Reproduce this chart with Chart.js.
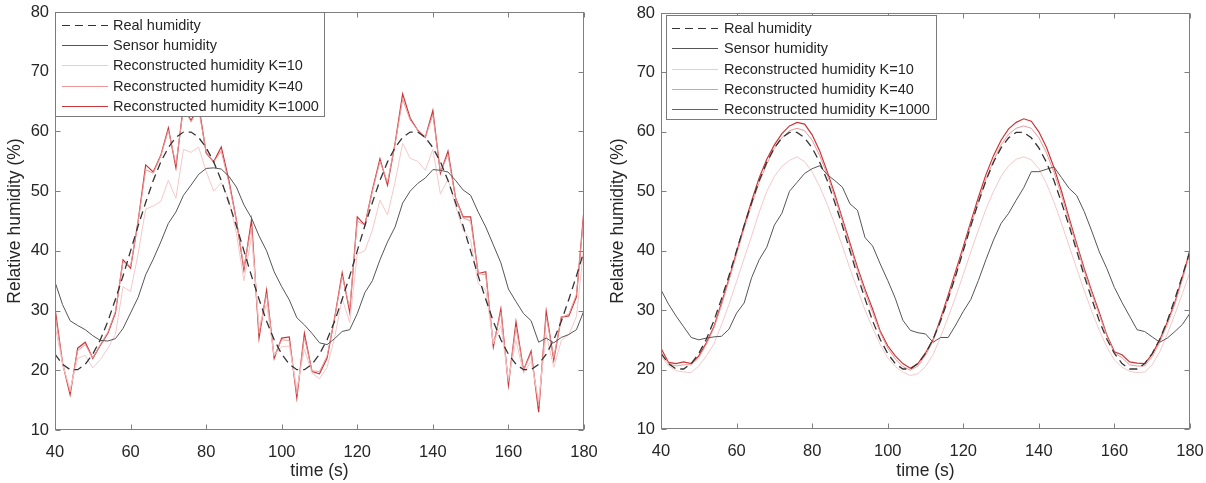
<!DOCTYPE html>
<html>
<head>
<meta charset="utf-8">
<title>Humidity reconstruction</title>
<script src="https://cdn.jsdelivr.net/npm/chart.js@4.4.1/dist/chart.umd.min.js"></script>
<style>
  html, body { margin: 0; padding: 0; background: #fff; }
  .panel { position: absolute; top: 0; width: 603px; height: 483px; }
</style>
</head>
<body>
<div class="panel" style="left:0"><canvas id="left" width="603" height="483"></canvas></div>
<div class="panel" style="left:603px"><canvas id="right" width="603" height="483"></canvas></div>
<script>
// sample times (s)
const time = [40, 42, 44, 46, 48, 50, 52, 54, 56, 58, 60, 62, 64, 66, 68, 70, 72, 74, 76, 78,
  80, 82, 84, 86, 88, 90, 92, 94, 96, 98, 100, 102, 104, 106, 108, 110, 112, 114, 116, 118,
  120, 122, 124, 126, 128, 130, 132, 134, 136, 138, 140, 142, 144, 146, 148, 150, 152, 154, 156, 158,
  160, 162, 164, 166, 168, 170, 172, 174, 176, 178, 180];

const seriesLabels = ['Real humidity', 'Sensor humidity', 'Reconstructed humidity K=10',
  'Reconstructed humidity K=40', 'Reconstructed humidity K=1000'];

const xTicks = [40, 60, 80, 100, 120, 140, 160, 180];
const yTicks = [10, 20, 30, 40, 50, 60, 70, 80];

// true humidity, same in both runs
const realHumidity = [22.7, 21.0, 20.1, 20.1, 21.0, 22.7, 25.1, 28.2, 31.9, 35.8,
  40.0, 44.2, 48.1, 51.8, 54.9, 57.3, 59.0, 59.9, 59.9, 59.0,
  57.3, 54.9, 51.8, 48.1, 44.2, 40.0, 35.8, 31.9, 28.2, 25.1,
  22.7, 21.0, 20.1, 20.1, 21.0, 22.7, 25.1, 28.2, 31.9, 35.8,
  40.0, 44.2, 48.1, 51.8, 54.9, 57.3, 59.0, 59.9, 59.9, 59.0,
  57.3, 54.9, 51.8, 48.1, 44.2, 40.0, 35.8, 31.9, 28.2, 25.1,
  22.7, 21.0, 20.1, 20.1, 21.0, 22.7, 25.1, 28.2, 31.9, 35.8, 40.0];

// left run (noisy)
const sensorLeft = [34.8, 31.0, 28.3, 27.5, 26.8, 25.8, 25.0, 24.9, 25.3, 27.0,
  29.6, 32.2, 36.0, 38.6, 41.5, 44.6, 46.5, 49.3, 51.0, 52.8,
  53.8, 53.9, 53.7, 52.5, 50.7, 47.7, 45.5, 42.5, 40.0, 36.5,
  34.0, 31.8, 28.8, 27.6, 26.2, 24.6, 24.3, 25.3, 26.5, 26.8,
  29.5, 33.0, 35.0, 38.5, 41.5, 44.0, 48.0, 50.0, 51.3, 52.2,
  53.6, 53.5, 53.2, 51.8, 50.2, 49.3, 46.5, 44.0, 41.0, 38.0,
  33.6, 31.5, 29.5, 28.3, 24.7, 25.4, 24.6, 25.5, 26.0, 26.8, 30.0];

const k10Left = [27.5, 21.0, 16.8, 22.0, 22.5, 20.4, 21.8, 23.7, 26.0, 34.0,
  33.2, 39.5, 47.0, 47.5, 48.3, 51.8, 48.8, 57.0, 56.5, 57.4,
  53.3, 50.0, 51.4, 48.6, 43.0, 35.0, 42.5, 27.5, 31.0, 22.5,
  24.0, 24.0, 17.0, 23.5, 19.5, 18.6, 20.5, 25.5, 32.0, 28.0,
  39.5, 40.0, 43.5, 48.5, 46.0, 51.5, 58.0, 55.5, 55.0, 53.5,
  57.0, 49.5, 52.0, 47.5, 43.5, 41.8, 34.5, 33.5, 24.5, 27.5,
  18.5, 25.0, 19.5, 21.5, 15.0, 26.0, 20.5, 25.0, 26.0, 29.0, 41.0];

const k40Left = [29.5, 21.2, 16.4, 23.3, 24.3, 22.1, 24.3, 26.4, 29.9, 38.2,
  37.4, 44.9, 53.6, 53.0, 55.9, 60.2, 54.5, 63.9, 61.6, 63.8,
  56.5, 54.9, 56.7, 51.4, 45.1, 37.2, 44.1, 26.2, 32.8, 22.4,
  25.1, 25.0, 16.0, 25.5, 19.9, 19.8, 22.4, 28.7, 35.8, 30.4,
  45.0, 44.3, 50.0, 55.0, 51.5, 57.9, 65.4, 61.9, 60.2, 59.0,
  62.8, 53.2, 56.1, 48.8, 45.5, 45.0, 36.2, 36.0, 24.4, 29.7,
  18.1, 27.2, 20.0, 22.8, 14.0, 29.0, 22.1, 28.8, 29.4, 32.7, 46.2];

const k1000Left = [30.4, 21.2, 15.9, 23.7, 24.7, 22.0, 24.2, 26.2, 29.6, 38.5,
  37.1, 45.0, 54.4, 53.2, 56.0, 60.6, 53.9, 64.5, 61.8, 64.5,
  56.4, 54.9, 57.4, 51.9, 45.2, 36.8, 45.2, 25.4, 33.4, 22.0,
  25.4, 25.6, 15.4, 26.2, 19.8, 19.4, 22.0, 28.8, 36.3, 29.7,
  45.7, 44.3, 50.2, 55.4, 51.0, 58.0, 66.3, 62.2, 60.2, 59.0,
  63.5, 53.0, 56.7, 48.9, 45.7, 45.7, 36.2, 36.5, 23.9, 30.3,
  17.5, 28.1, 20.0, 23.2, 13.0, 29.9, 21.7, 28.9, 29.1, 32.3, 47.0];

// right run (smooth)
const sensorRight = [33.4, 31.0, 29.0, 27.2, 25.4, 25.0, 25.3, 25.5, 25.6, 26.8,
  29.5, 31.2, 35.5, 38.5, 40.6, 44.3, 46.3, 50.0, 51.5, 53.0,
  53.8, 54.3, 52.8, 51.8, 50.7, 47.9, 46.8, 42.2, 40.8, 37.8,
  35.0, 32.0, 28.3, 26.6, 26.2, 26.0, 24.6, 25.4, 25.4, 27.5,
  29.8, 31.8, 35.0, 38.5, 41.8, 44.6, 46.3, 48.5, 50.6, 53.3,
  53.3, 53.7, 54.1, 52.3, 50.5, 49.3, 46.6, 43.3, 39.8, 37.0,
  33.8, 31.3, 29.0, 26.7, 26.4, 25.5, 24.6, 25.3, 26.4, 27.6, 29.5];

const k10Right = [22.3, 20.6, 19.8, 19.6, 19.5, 20.6, 22.3, 24.3, 27.5, 31.0,
  34.8, 38.7, 42.5, 46.5, 50.0, 52.5, 54.2, 55.2, 55.8, 55.0,
  53.3, 50.8, 47.8, 44.4, 40.8, 37.0, 33.5, 30.0, 27.0, 24.2,
  22.0, 20.5, 19.6, 19.0, 19.3, 20.5, 22.5, 25.5, 28.8, 32.3,
  36.0, 39.8, 43.5, 47.0, 50.0, 52.5, 54.3, 55.4, 55.8, 55.3,
  53.8, 51.3, 48.2, 44.6, 40.8, 37.0, 33.3, 29.8, 26.6, 23.8,
  21.6, 20.4, 19.7, 19.5, 19.6, 20.8, 23.0, 26.0, 29.3, 32.8, 36.5];

const k40Right = [23.0, 21.0, 20.6, 20.8, 20.8, 22.0, 24.2, 27.0, 30.8, 35.0,
  39.4, 43.7, 47.8, 51.5, 54.6, 57.2, 59.0, 60.2, 60.6, 60.2,
  58.6, 56.0, 52.8, 49.0, 45.0, 40.8, 36.7, 33.0, 29.6, 26.2,
  23.6, 21.8, 20.5, 19.9, 20.6, 22.4, 24.8, 28.2, 32.0, 36.0,
  40.2, 44.3, 48.3, 52.0, 55.2, 57.8, 59.6, 60.6, 61.0, 60.6,
  59.0, 56.5, 53.2, 49.3, 45.0, 40.8, 36.6, 32.8, 29.2, 25.6,
  22.8, 22.0, 20.8, 20.6, 20.6, 22.2, 24.6, 27.6, 31.0, 35.2, 39.6];

const k1000Right = [23.6, 21.2, 21.0, 21.3, 21.0, 22.3, 24.5, 27.2, 31.2, 35.3,
  39.8, 44.2, 48.4, 52.3, 55.4, 57.8, 59.7, 61.0, 61.6, 61.3,
  59.5, 56.8, 53.3, 49.5, 45.4, 41.3, 37.2, 33.5, 30.2, 26.5,
  24.0, 22.3, 21.0, 20.2, 21.0, 22.8, 25.0, 28.6, 32.5, 36.6,
  40.7, 44.9, 49.0, 52.8, 56.0, 58.6, 60.5, 61.6, 62.2, 61.8,
  60.0, 57.4, 54.0, 50.0, 45.5, 41.2, 37.0, 33.2, 29.6, 25.8,
  23.0, 22.5, 21.3, 21.1, 21.0, 22.6, 25.0, 28.0, 31.3, 35.6, 40.0];

const FONT = "'Liberation Sans', Arial, sans-serif";
const TEXT = '#262626';
const AXIS = '#808080';
const lineColors = ['#333333', '#555555', '#f5c8c8', '#ec9898', '#cc3538'];
const lineWidths = [1.3, 1, 1, 1, 1.2];

// box around the axes with inward ticks, plus the legend on top
const framePlugin = {
  id: 'frame',
  afterDraw(chart, args, opts) {
    const { ctx, chartArea: a, scales } = chart;
    const L = Math.round(a.left) + 0.5, R = Math.round(a.right) - 0.5;
    const T = Math.round(a.top) + 0.5, B = Math.round(a.bottom) - 0.5;
    ctx.save();
    ctx.setLineDash([]);
    ctx.strokeStyle = AXIS;
    ctx.lineWidth = 1;
    ctx.strokeRect(L, T, R - L, B - T);
    ctx.beginPath();
    xTicks.forEach(v => {
      const px = Math.round(scales.x.getPixelForValue(v)) + 0.5;
      ctx.moveTo(px, B); ctx.lineTo(px, B - 5);
      ctx.moveTo(px, T); ctx.lineTo(px, T + 5);
    });
    yTicks.forEach(v => {
      const py = Math.round(scales.y.getPixelForValue(v)) + 0.5;
      ctx.moveTo(L, py); ctx.lineTo(L + 5, py);
      ctx.moveTo(R, py); ctx.lineTo(R - 5, py);
    });
    ctx.stroke();

    // legend: white box, then a short sample of each line and its label
    const lg = opts.legend;
    ctx.fillStyle = '#ffffff';
    ctx.fillRect(lg.left, lg.top, lg.width, lg.height);
    ctx.strokeStyle = '#7a7a7a';
    ctx.strokeRect(lg.left + 0.5, lg.top + 0.5, lg.width - 1, lg.height - 1);
    ctx.font = '14.5px ' + FONT;
    ctx.textBaseline = 'middle';
    ctx.textAlign = 'left';
    seriesLabels.forEach((label, i) => {
      const y = Math.round(lg.top + lg.firstRow + i * lg.rowStep);
      const x0 = lg.left + lg.sampleStart;
      ctx.fillStyle = lineColors[i];
      if (i === 0) {
        for (let x = x0; x < x0 + lg.sampleLength; x += 13) {
          ctx.fillRect(x, y, Math.min(8, x0 + lg.sampleLength - x), 1);
        }
      } else {
        ctx.fillRect(x0, y, lg.sampleLength, 1);
      }
      ctx.fillStyle = TEXT;
      ctx.fillText(label, lg.left + lg.textStart, y + 0.5);
    });
    ctx.restore();
  }
};

function points(values) {
  return values.map((v, i) => ({ x: time[i], y: v }));
}

function buildChart(id, sensor, k10, k40, k1000, layout) {
  const series = [realHumidity, sensor, k10, k40, k1000];
  new Chart(document.getElementById(id), {
    type: 'line',
    data: {
      datasets: series.map((vals, i) => ({
        label: seriesLabels[i],
        data: points(vals),
        borderColor: lineColors[i],
        borderWidth: lineWidths[i],
        borderDash: i === 0 ? [8, 5] : [],
        pointRadius: 0,
        tension: 0,
        fill: false,
      }))
    },
    options: {
      responsive: false,
      animation: false,
      devicePixelRatio: 1,
      layout: { padding: { top: layout.top, right: layout.right, left: 0, bottom: 0 } },
      plugins: {
        legend: { display: false },
        tooltip: { enabled: false },
        frame: { legend: layout.legend },
      },
      scales: {
        x: {
          type: 'linear',
          min: 40,
          max: 180,
          afterFit: (s) => { s.height = layout.xHeight; s.paddingLeft = 0; s.paddingRight = 0; },
          afterBuildTicks: (s) => { s.ticks = xTicks.map(v => ({ value: v })); },
          grid: { display: false, drawTicks: false },
          border: { display: false },
          ticks: { font: { family: FONT, size: 16.5 }, color: TEXT, padding: 13, maxRotation: 0 },
          title: { display: true, text: 'time (s)', font: { family: FONT, size: 17.5 }, color: TEXT, padding: { top: 0, bottom: 1 } },
        },
        y: {
          min: 10,
          max: 80,
          afterFit: (s) => { s.width = layout.yWidth; s.paddingTop = 0; s.paddingBottom = 0; },
          afterBuildTicks: (s) => { s.ticks = yTicks.map(v => ({ value: v })); },
          grid: { display: false, drawTicks: false },
          border: { display: false },
          ticks: { font: { family: FONT, size: 16.5 }, color: TEXT, padding: 6 },
          title: { display: true, text: 'Relative humidity (%)', font: { family: FONT, size: 17.5 }, color: TEXT, padding: { top: 5, bottom: 0 } },
        },
      },
    },
    plugins: [framePlugin],
  });
}

buildChart('left', sensorLeft, k10Left, k40Left, k1000Left, {
  top: 12, right: 19, yWidth: 55, xHeight: 53,
  legend: { left: 55, top: 12, width: 270, height: 105, firstRow: 13, rowStep: 20.2, sampleStart: 7, sampleLength: 46, textStart: 58 },
});

buildChart('right', sensorRight, k10Right, k40Right, k1000Right, {
  top: 13, right: 16, yWidth: 58, xHeight: 54,
  legend: { left: 63, top: 15, width: 271, height: 105, firstRow: 13, rowStep: 20.3, sampleStart: 6, sampleLength: 46, textStart: 58 },
});
</script>
</body>
</html>
